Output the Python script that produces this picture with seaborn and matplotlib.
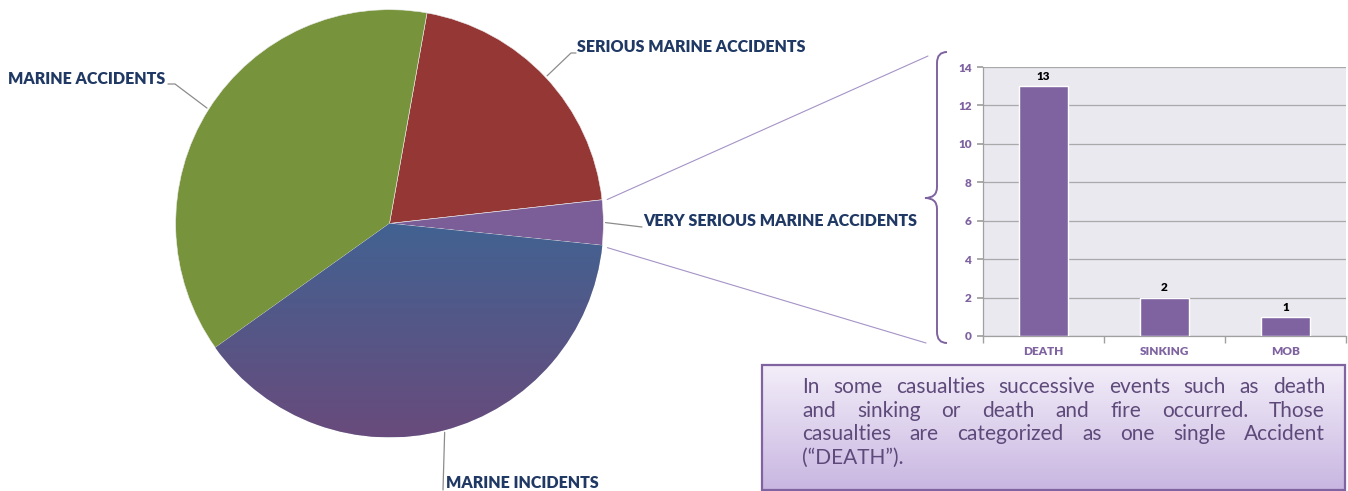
import numpy as np
import matplotlib
matplotlib.use("Agg")
import matplotlib.pyplot as plt
import seaborn as sns
from matplotlib.patches import Rectangle, PathPatch
from matplotlib.path import Path
from matplotlib.colors import LinearSegmentedColormap

# pie: casualty classes (counts)
pie_labels = ['SERIOUS MARINE ACCIDENTS', 'VERY SERIOUS MARINE ACCIDENTS',
              'MARINE INCIDENTS', 'MARINE ACCIDENTS']
pie_values = [96, 16, 181, 177]
pie_colors = ['#953735', '#7B5E98', '#4A5C8C', '#77933C']

# bar: breakdown of very serious marine accidents
bar_cats = ['DEATH', 'SINKING', 'MOB']
bar_vals = [13, 2, 1]

note_lines = ['In some casualties successive events such as death',
              'and sinking or death and fire occurred. Those',
              'casualties are categorized as one single Accident',
              '(\u201cDEATH\u201d).']

W, H = 1348, 491
sns.set_theme(style='white')
plt.rcParams['font.family'] = ['Lato', 'DejaVu Sans']

fig = plt.figure(figsize=(W / 100, H / 100), dpi=100)
fig.patch.set_facecolor('white')

# pixel geometry of the pie
cx, cy, R = 389.5, 223.5, 216.0


def px_box(x0, y0, x1, y1):
    return [x0 / W, 1 - y1 / H, (x1 - x0) / W, (y1 - y0) / H]


ax_pie = fig.add_axes(px_box(cx - R, cy - R, cx + R, cy + R))
wedges, _ = ax_pie.pie(pie_values, colors=pie_colors, startangle=79.9,
                       counterclock=False, radius=1,
                       wedgeprops=dict(edgecolor='#ececec', linewidth=0.4))
# vertical gradient on the marine incidents slice
grad_cmap = LinearSegmentedColormap.from_list('g', ['#3D6594', '#684B7C'])
grad = np.linspace(0, 1, 256).reshape(-1, 1)
im = ax_pie.imshow(grad, cmap=grad_cmap, extent=(-1, 1, -1, 0.12),
                   aspect='auto', zorder=3)
im.set_clip_path(wedges[2])
ax_pie.set_xlim(-1.01, 1.01)
ax_pie.set_ylim(-1.01, 1.01)
ax_pie.set_aspect('equal')
ax_pie.axis('off')


def edge_pt(angle_deg):
    a = np.deg2rad(angle_deg)
    return cx + R * np.cos(a), cy - R * np.sin(a)


# bar chart
ax_bar = fig.add_axes(px_box(983, 67, 1346, 336))
bar_purple = '#7F63A1'
sns.barplot(x=bar_cats, y=bar_vals, color=bar_purple, width=0.4,
            saturation=1, ax=ax_bar, zorder=3)
ax_bar.set_facecolor('#EBE9F0')
ax_bar.set_ylim(0, 14)
ax_bar.set_xlim(-0.5, 2.5)
ax_bar.set_yticks(range(0, 15, 2))
ax_bar.grid(axis='y', color='#A9A9A9', linewidth=0.9, zorder=0)
ax_bar.set_axisbelow(True)
for s in ['top', 'right']:
    ax_bar.spines[s].set_visible(False)
for s in ['left', 'bottom']:
    ax_bar.spines[s].set_color('#A0A0A0')
    ax_bar.spines[s].set_linewidth(0.9)
ax_bar.tick_params(axis='y', length=4, color='#A0A0A0', labelsize=8.5,
                   labelcolor=bar_purple, pad=4, left=True)
ax_bar.tick_params(axis='x', which='major', length=0, labelsize=8.5,
                   labelcolor=bar_purple, pad=7)
ax_bar.set_xticks([-0.5, 0.5, 1.5, 2.5], minor=True)
ax_bar.tick_params(axis='x', which='minor', length=5, color='#A0A0A0',
                   bottom=True)
for lab in ax_bar.get_xticklabels() + ax_bar.get_yticklabels():
    lab.set_fontweight('heavy')
ax_bar.set_xlabel('')
ax_bar.set_ylabel('')
ax_bar.bar_label(ax_bar.containers[0], fontsize=8.5, fontweight='heavy',
                 color='black', padding=3)

# overlay in pixel coordinates for leader lines, brace and note
ov = fig.add_axes([0, 0, 1, 1], zorder=10)
ov.set_xlim(0, W)
ov.set_ylim(H, 0)
ov.axis('off')
ov.patch.set_alpha(0)

label_color = '#1F3864'
lead_color = '#8C8C8C'
mids = [(w.theta1 + w.theta2) / 2 for w in wedges]
text_pos = {
    'SERIOUS MARINE ACCIDENTS': ([(571, 53), (576, 53)], (577, 47)),
    'VERY SERIOUS MARINE ACCIDENTS': ([(642, 227)], (643, 221)),
    'MARINE INCIDENTS': ([(443, 490)], (446, 483)),
    'MARINE ACCIDENTS': ([(175, 84), (168, 84)], (8, 79)),
}
for lab, mid in zip(pie_labels, mids):
    pts, (tx, ty) = text_pos[lab]
    xs, ys = zip(edge_pt(mid), *pts)
    ov.plot(xs, ys, color=lead_color, lw=0.9)
    ov.text(tx, ty, lab, ha='left', va='center', fontsize=11.5,
            fontweight='heavy', color=label_color)

# lines from the very serious slice to the bar chart
conn = '#A593C6'
x1, y1 = edge_pt(wedges[1].theta2)
x2, y2 = edge_pt(wedges[1].theta1)
ov.plot([x1 + 3, 928], [y1, 56], color=conn, lw=0.8)
ov.plot([x2 + 3, 926], [y2 + 2, 343], color=conn, lw=0.8)

# curly brace
verts = [(947, 52), (937, 52), (937, 63),
         (937, 187),
         (937, 198), (925, 198),
         (937, 198), (937, 209),
         (937, 332),
         (937, 343), (947, 343)]
codes = [Path.MOVETO, Path.CURVE3, Path.CURVE3,
         Path.LINETO,
         Path.CURVE3, Path.CURVE3,
         Path.CURVE3, Path.CURVE3,
         Path.LINETO,
         Path.CURVE3, Path.CURVE3]
ov.add_patch(PathPatch(Path(verts, codes), facecolor='none',
                       edgecolor=bar_purple, lw=1.4))

# note box
box_cmap = LinearSegmentedColormap.from_list('b', ['#F3EEF9', '#C8B6E1'])
ov.imshow(grad, cmap=box_cmap, extent=(762, 1345, 490, 365), aspect='auto',
          zorder=1)
ov.add_patch(Rectangle((762, 365), 583, 125, facecolor='none',
                       edgecolor='#8064A2', lw=1.6, zorder=2))
ov.set_xlim(0, W)
ov.set_ylim(H, 0)

note_color = '#5E4A7A'
left, right = 802, 1325
line_y = [387, 411, 434.5, 458]
note_size = 15
renderer = fig.canvas.get_renderer()
for i, (line, y) in enumerate(zip(note_lines, line_y)):
    if i == len(note_lines) - 1:
        ov.text(left, y, line, ha='left', va='center', fontsize=note_size,
                color=note_color, zorder=3)
        continue
    words = line.split(' ')
    objs = [ov.text(0, y, w, ha='left', va='center', fontsize=note_size,
                    color=note_color, zorder=3) for w in words]
    widths = [o.get_window_extent(renderer).width for o in objs]
    gap = (right - left - sum(widths)) / (len(words) - 1)
    x = left
    for o, wd in zip(objs, widths):
        o.set_x(x)
        x += wd + gap

fig.savefig('out.png', dpi=100, facecolor='white')
